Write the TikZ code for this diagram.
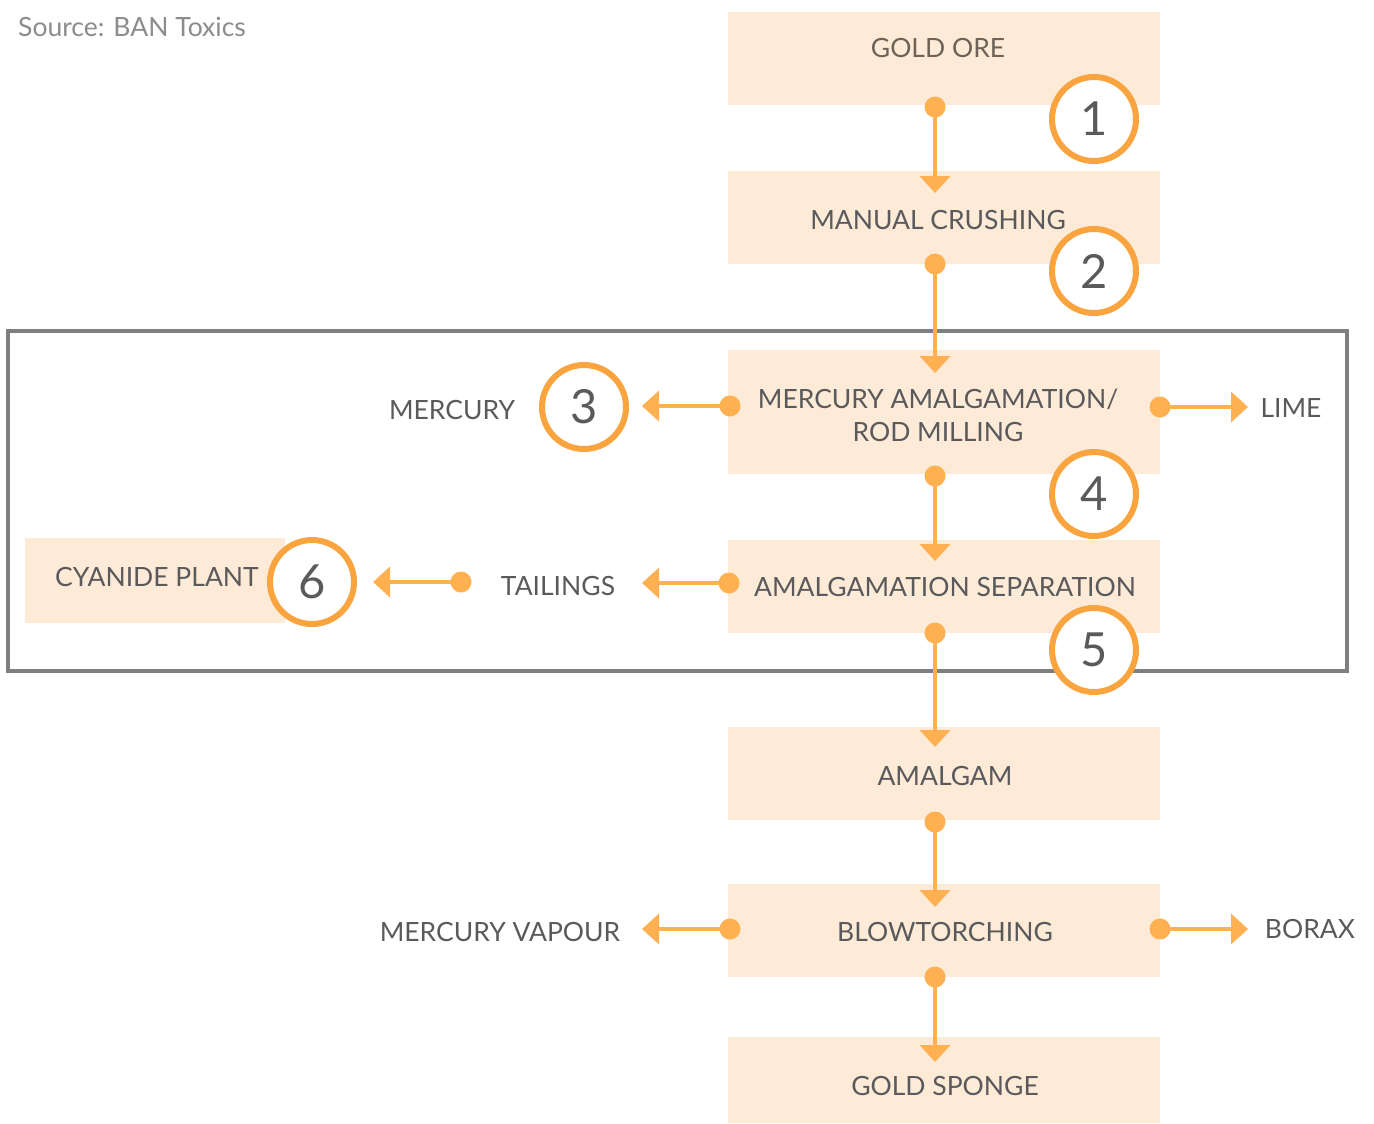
\documentclass[tikz,border=0pt]{standalone}
\usepackage{fontspec}
\setmainfont{Lato}
\usetikzlibrary{arrows.meta}
\definecolor{boxfill}{HTML}{FDEBD7}
\definecolor{arr}{HTML}{FFB152}
\definecolor{ring}{HTML}{F9A43E}
\definecolor{txt}{HTML}{5A595C}
\definecolor{oretxt}{HTML}{6E6356}
\definecolor{frame}{HTML}{7F7F82}
\definecolor{srctxt}{HTML}{8C8C8F}
\tikzset{
  stepbox/.style={fill=boxfill, draw=none, inner sep=0pt},
  lbl/.style={text=txt, font=\fontsize{26.5}{33}\selectfont, align=center, inner sep=0pt},
  num/.style={circle, draw=ring, line width=6pt, fill=white, minimum size=84pt, inner sep=0pt, text=txt, font=\fontsize{47}{50}\selectfont},
  flow/.style={draw=arr, line width=4pt, -{Triangle[width=30pt,length=17pt]}, shorten >=0pt},
  dot/.style={fill=arr, circle, inner sep=0pt, minimum size=21pt}
}
\begin{document}
\begin{tikzpicture}[x=1pt,y=-1pt]
\useasboundingbox (0,0) rectangle (1374,1124);
% frame
\draw[frame, line width=4pt] (8,331) rectangle (1347,671);
% boxes
\fill[boxfill] (728,12) rectangle (1160,105);
\fill[boxfill] (728,171) rectangle (1160,264);
\fill[boxfill] (728,350) rectangle (1160,474);
\fill[boxfill] (728,540) rectangle (1160,633);
\fill[boxfill] (728,727) rectangle (1160,820);
\fill[boxfill] (728,884) rectangle (1160,977);
\fill[boxfill] (728,1037) rectangle (1160,1123);
\fill[boxfill] (25,538) rectangle (285,623);
% labels
\node[lbl, text=oretxt] (ore) at (938,48) {GOLD ORE};
\node[lbl] (crush) at (938,220) {MANUAL CRUSHING};
\node[lbl] (amalg) at (938,415) {MERCURY AMALGAMATION/\\ROD MILLING};
\node[lbl] (sep) at (945,587) {AMALGAMATION SEPARATION};
\node[lbl] (amalgam) at (945,776) {AMALGAM};
\node[lbl] (blow) at (945,932) {BLOWTORCHING};
\node[lbl] (sponge) at (945,1086) {GOLD SPONGE};
\node[lbl] (cyan) at (157,577) {CYANIDE PLANT};
\node[lbl] (merc) at (452,410) {MERCURY};
\node[lbl] (lime) at (1291,408) {LIME};
\node[lbl] (tail) at (558,586) {TAILINGS};
\node[lbl] (vap) at (500,932) {MERCURY VAPOUR};
\node[lbl] (borax) at (1310,929) {BORAX};
\node[anchor=west, text=srctxt, font=\fontsize{26.5}{30}\selectfont, inner sep=0pt] (src) at (18,27) {Source: BAN Toxics};
% connector end points
\coordinate (a1) at (935,107); \coordinate (b1) at (935,193);
\coordinate (a2) at (935,264); \coordinate (b2) at (935,373);
\coordinate (a3) at (935,476); \coordinate (b3) at (935,561);
\coordinate (a4) at (935,633); \coordinate (b4) at (935,747);
\coordinate (a5) at (935,822); \coordinate (b5) at (935,907);
\coordinate (a6) at (935,977); \coordinate (b6) at (935,1062);
\coordinate (h1a) at (730,406); \coordinate (h1b) at (642,406);
\coordinate (h2a) at (1160,407); \coordinate (h2b) at (1248,407);
\coordinate (h3a) at (729,583); \coordinate (h3b) at (642,583);
\coordinate (h4a) at (461,582); \coordinate (h4b) at (373,582);
\coordinate (h5a) at (730,929); \coordinate (h5b) at (642,929);
\coordinate (h6a) at (1160,929); \coordinate (h6b) at (1248,929);
\foreach \p/\q in {a1/b1,a2/b2,a3/b3,a4/b4,a5/b5,a6/b6,h1a/h1b,h2a/h2b,h3a/h3b,h4a/h4b,h5a/h5b,h6a/h6b}{
  \draw[flow] (\p) -- (\q);
  \node[dot] at (\p) {};
}
% number circles
\node[num] (n1) at (1094,119) {1};
\node[num] (n2) at (1094,271) {2};
\node[num] (n3) at (584,407) {3};
\node[num] (n4) at (1094,494) {4};
\node[num] (n5) at (1094,650) {5};
\node[num] (n6) at (312,582) {6};
\end{tikzpicture}
\end{document}
